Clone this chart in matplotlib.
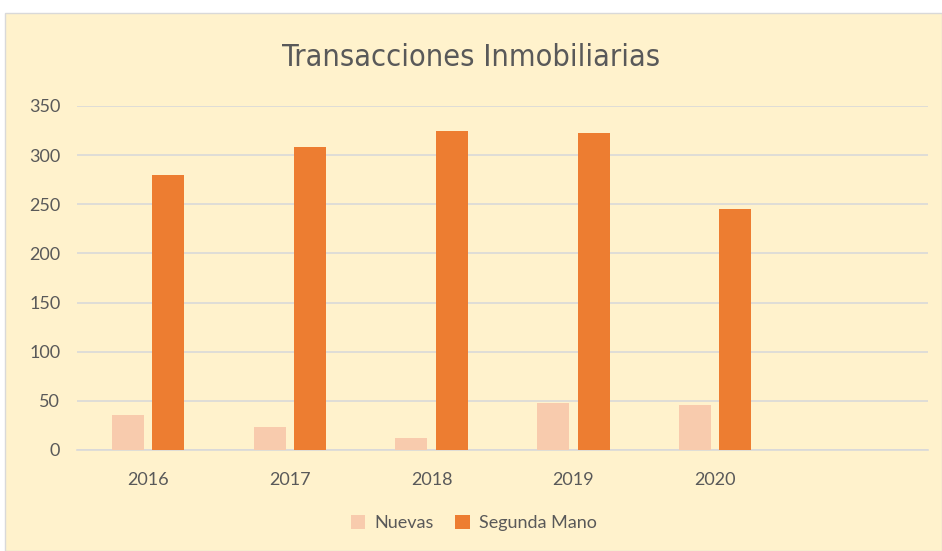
import numpy as np
import matplotlib
matplotlib.use('Agg')
import matplotlib.pyplot as plt
from matplotlib.patches import Rectangle

plt.rcParams['font.family'] = ['Lato', 'DejaVu Sans']

# ── datos
years = ['2016', '2017', '2018', '2019', '2020', '']
nuevas = [36, 23, 12, 48, 46]
segunda_mano = [280, 308, 325, 323, 245]
y_ticks = [0, 50, 100, 150, 200, 250, 300, 350]

BG = '#FFF2CC'
GRID = '#D9D9D9'
TXT = '#595959'
C_NUEVAS = '#F8CBAD'
C_SEGUNDA = '#ED7D31'

fig = plt.figure(figsize=(9.42, 5.51), dpi=100)
fig.patch.set_facecolor('white')
fig.patches.append(Rectangle((5 / 942, 0), 1 - 5 / 942, 1 - 13 / 551,
                             transform=fig.transFigure, facecolor=BG,
                             edgecolor=GRID, linewidth=1, zorder=-10))

ax = fig.add_axes([77 / 942, 1 - 450 / 551, (928 - 77) / 942, (450 - 106) / 551])
ax.set_facecolor('none')

x = np.arange(len(nuevas))
w = 0.225
off = 0.142
ax.bar(x - off, nuevas, width=w, color=C_NUEVAS, label='Nuevas', zorder=3)
ax.bar(x + off, segunda_mano, width=w, color=C_SEGUNDA, label='Segunda Mano', zorder=3)

ax.set_xlim(-0.5, len(years) - 0.5)
ax.set_ylim(0, 350)
ax.set_yticks(y_ticks)
ax.set_xticks(np.arange(len(years)))
ax.set_xticklabels(years)
ax.yaxis.grid(True, color=GRID, linewidth=1.2, zorder=0)
ax.set_axisbelow(True)
for s in ['top', 'right', 'left']:
    ax.spines[s].set_visible(False)
ax.spines['bottom'].set_color(GRID)
ax.spines['bottom'].set_linewidth(1.2)
ax.tick_params(axis='both', length=0, colors=TXT, labelsize=13)
ax.tick_params(axis='y', pad=12)
ax.tick_params(axis='x', pad=16)

fig.text(0.5, 1 - 57 / 551, 'Transacciones Inmobiliarias', ha='center', va='center',
         fontsize=22, color=TXT, family='DejaVu Sans', fontstretch='condensed')

fig.legend(loc='center', bbox_to_anchor=(0.503, 1 - 523 / 551), ncol=2, frameon=False,
           fontsize=13, labelcolor=TXT, handlelength=0.8, handleheight=0.8,
           columnspacing=1.2, handletextpad=0.5)

plt.savefig('out.png', dpi=100, facecolor=fig.get_facecolor())
plt.close()
